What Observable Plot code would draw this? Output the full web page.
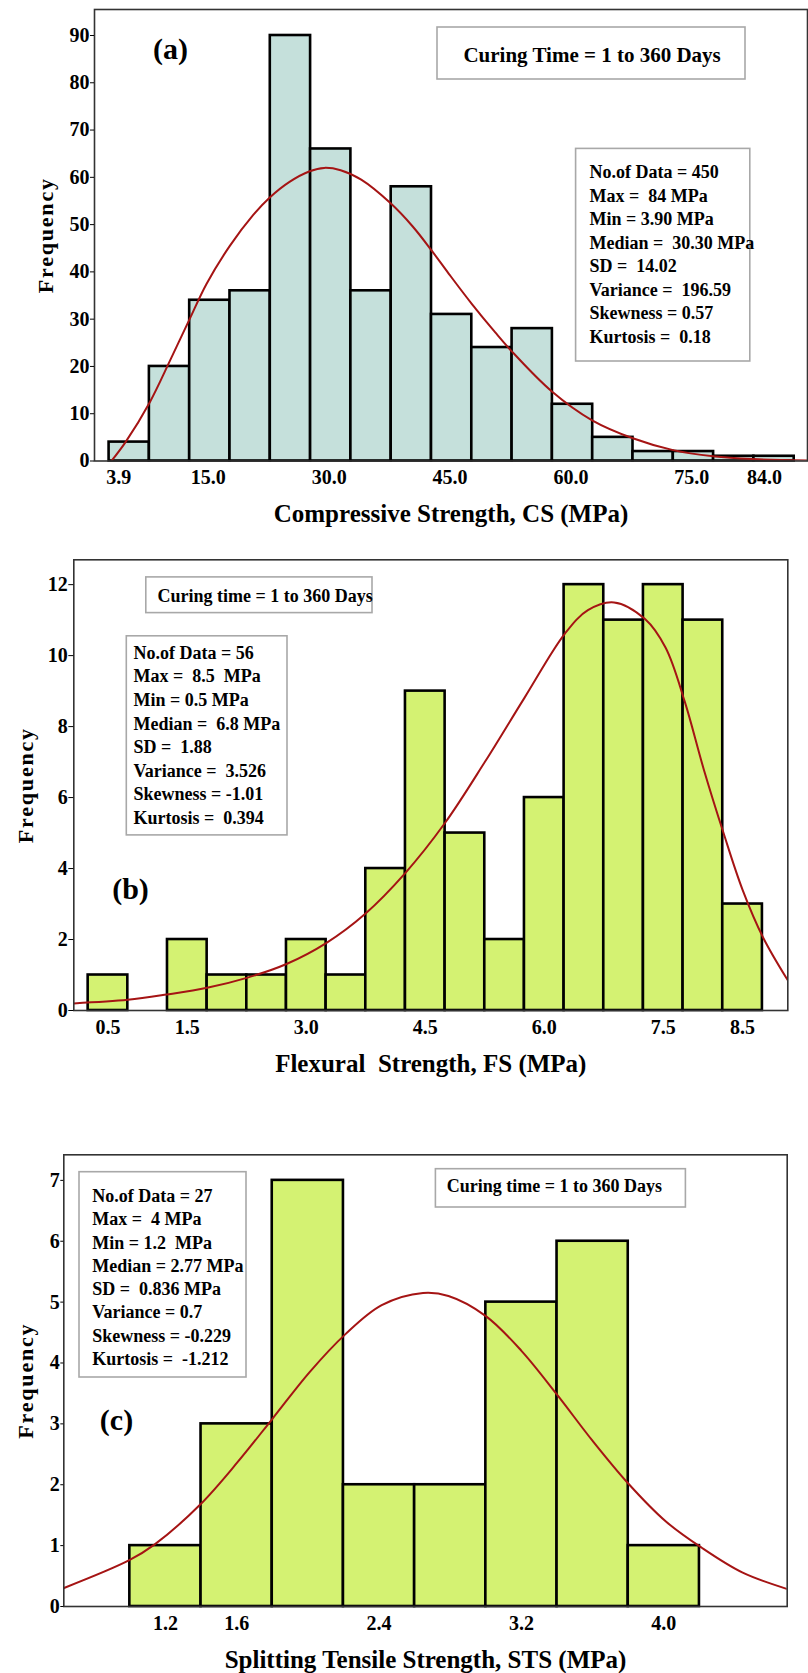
<!DOCTYPE html>
<html><head><meta charset="utf-8">
<script src="https://cdn.jsdelivr.net/npm/d3@7"></script>
<script src="https://cdn.jsdelivr.net/npm/@observablehq/plot@0.6"></script>
<style>
body{margin:0;background:#fff;}
#chart svg{display:block;}
</style></head><body><div id="chart"></div>
<script>
// ---------- Panel (a): Compressive strength ----------
const csEdges = [2.7, 7.7, 12.7, 17.7, 22.7, 27.7, 32.7, 37.7, 42.7, 47.7, 52.7, 57.7, 62.7, 67.7, 72.7, 77.7, 82.7, 87.7];
const csCounts = [4, 20, 34, 36, 90, 66, 36, 58, 31, 24, 28, 12, 5, 2, 2, 1, 1];
const csCurveX = [2.98, 4.74, 7.77, 10.33, 12.69, 14.8, 17.68, 20.56, 22.67, 25.04, 27.59, 29.38, 31.43, 33.98, 37.63, 40.37, 42.68, 44.85, 47.67, 50.61, 52.66, 57.64, 62.63, 67.68, 72.67, 77.66, 82.58, 89.3];
const csCurveY = [0, 4, 12.5, 21.5, 30, 37.5, 45.5, 52, 55.8, 59, 61.3, 62, 61.5, 59.5, 54.5, 49.6, 44.6, 39.6, 33.3, 27.2, 23.2, 14.7, 8.6, 4.8, 2.3, 1.0, 0.4, 0.1];
const csXTicks = [3.9, 15, 30, 45, 60, 75, 84];
const csYTicks = [0, 10, 20, 30, 40, 50, 60, 70, 80, 90];
const csStats = ["No.of Data = 450", "Max =  84 MPa", "Min = 3.90 MPa", "Median =  30.30 MPa", "SD =  14.02", "Variance =  196.59", "Skewness = 0.57", "Kurtosis =  0.18"];
const csCuring = "Curing Time = 1 to 360 Days";
const csTag = "(a)";
const csXLabel = "Compressive Strength, CS (MPa)";

// ---------- Panel (b): Flexural strength ----------
const fsEdges = [0.25, 0.75, 1.25, 1.75, 2.25, 2.75, 3.25, 3.75, 4.25, 4.75, 5.25, 5.75, 6.25, 6.75, 7.25, 7.75, 8.25, 8.75];
const fsCounts = [1, 0, 2, 1, 1, 2, 1, 4, 9, 5, 2, 6, 12, 11, 12, 11, 3];
const fsCurveX = [0.07, 0.75, 1.24, 1.75, 2.25, 2.75, 3.25, 3.74, 4.25, 4.75, 5.25, 5.75, 6.26, 6.55, 6.88, 7.27, 7.53, 7.77, 8.01, 8.26, 8.5, 8.76, 9.07];
const fsCurveY = [0.2, 0.3, 0.45, 0.64, 0.92, 1.31, 1.9, 2.72, 3.88, 5.29, 7.0, 8.81, 10.62, 11.28, 11.5, 11.03, 10.22, 8.71, 6.8, 5.0, 3.4, 2.05, 0.85];
const fsXTicks = [0.5, 1.5, 3.0, 4.5, 6.0, 7.5, 8.5];
const fsYTicks = [0, 2, 4, 6, 8, 10, 12];
const fsStats = ["No.of Data = 56", "Max =  8.5  MPa", "Min = 0.5 MPa", "Median =  6.8 MPa", "SD =  1.88", "Variance =  3.526", "Skewness = -1.01", "Kurtosis =  0.394"];
const fsCuring = "Curing time = 1 to 360 Days";
const fsTag = "(b)";
const fsXLabel = "Flexural  Strength, FS (MPa)";

// ---------- Panel (c): Splitting tensile strength ----------
const stsEdges = [1.0, 1.4, 1.8, 2.2, 2.6, 3.0, 3.4, 3.8, 4.2];
const stsCounts = [1, 3, 7, 2, 2, 5, 6, 1];
const stsCurveX = [0.627, 0.997, 1.14, 1.397, 1.605, 1.80, 2.01, 2.21, 2.415, 2.647, 2.79, 3.00, 3.20, 3.40, 3.60, 3.80, 4.01, 4.21, 4.44, 4.69];
const stsCurveY = [0.30, 0.76, 1.02, 1.68, 2.37, 3.08, 3.85, 4.47, 4.95, 5.15, 5.1, 4.77, 4.2, 3.48, 2.72, 2.02, 1.4, 0.97, 0.56, 0.29];
const stsXTicks = [1.2, 1.6, 2.4, 3.2, 4.0];
const stsYTicks = [0, 1, 2, 3, 4, 5, 6, 7];
const stsStats = ["No.of Data = 27", "Max =  4 MPa", "Min = 1.2  MPa", "Median = 2.77 MPa", "SD =  0.836 MPa", "Variance = 0.7", "Skewness = -0.229", "Kurtosis =  -1.212"];
const stsCuring = "Curing time = 1 to 360 Days";
const stsTag = "(c)";
const stsXLabel = "Splitting Tensile Strength, STS (MPa)";

// ---------- helpers ----------
const FONT = "'Liberation Serif','Times New Roman',serif";
const CURVE = "#a51414";
const keep = s => s.replace(/  /g, " \u00a0");

function bins(edges, counts) {
  return counts.map((c, i) => ({x1: edges[i], x2: edges[i + 1], count: c}));
}
function pts(xs, ys) { return xs.map((x, i) => ({x, y: ys[i]})); }

// annotation box, positioned in pixels relative to the plot frame
function boxMark(bx, by, bw, bh) {
  return (index, scales, values, dims) => d3.create("svg:rect")
    .attr("x", dims.marginLeft + bx).attr("y", dims.marginTop + by)
    .attr("width", bw).attr("height", bh)
    .attr("fill", "white").attr("stroke", "#a8a8a8").attr("stroke-width", 1.6).node();
}

function panel(o) {
  return Plot.plot({
    width: 808, height: o.height,
    marginLeft: o.m[0], marginTop: o.m[1], marginRight: o.m[2], marginBottom: o.m[3],
    style: {fontFamily: FONT, fontSize: "20px", fontWeight: "bold", color: "black", background: "white"},
    x: {domain: o.xDomain, label: null},
    y: {domain: o.yDomain, label: null},
    marks: [
      Plot.rect(bins(o.edges, o.counts), {x1: "x1", x2: "x2", y1: 0, y2: "count", fill: o.fill, stroke: "black", strokeWidth: 2.6}),
      Plot.line(pts(o.cx, o.cy), {x: "x", y: "y", stroke: CURVE, strokeWidth: 2, curve: "catmull-rom", clip: true}),
      Plot.frame({stroke: "#333", strokeWidth: 1.6}),
      Plot.axisX({ticks: o.xTicks, tickFormat: d3.format(".1f"), tickSize: 0, tickPadding: o.xPad, label: null}),
      Plot.axisY({ticks: o.yTicks, tickFormat: d => String(d), tickSize: o.ySize, tickPadding: 1, tickStrokeWidth: 1.5, label: null}),
      boxMark(...o.curingBox),
      boxMark(...o.statsBox),
      Plot.text([o.curing], {frameAnchor: "top-left", dx: o.curingPos[0], dy: o.curingPos[1], textAnchor: o.curingAnchor, lineAnchor: "middle", fontSize: o.curingSize}),
      Plot.text([o.stats.map(keep).join("\n")], {frameAnchor: "top-left", dx: o.statsPos[0], dy: o.statsPos[1], textAnchor: "start", lineAnchor: "top", fontSize: 18, lineHeight: o.statsLH}),
      Plot.text([o.tag], {frameAnchor: "top-left", dx: o.tagPos[0], dy: o.tagPos[1], textAnchor: "middle", lineAnchor: "middle", fontSize: 30}),
      Plot.text([keep(o.xLabel)], {frameAnchor: "bottom", dy: o.xLabelDy, lineAnchor: "middle", fontSize: 25}),
      Plot.text(["Frequency"], {frameAnchor: "left", dx: o.yLabelDx, rotate: -90, textAnchor: "middle", lineAnchor: "middle", fontSize: 22})
    ]
  });
}

const chart = document.getElementById("chart");

chart.append(panel({
  height: 530, m: [94, 9, 1, 69.5],
  xDomain: [0.89, 89.35], yDomain: [0, 95.5],
  edges: csEdges, counts: csCounts, fill: "#c5e0db",
  cx: csCurveX, cy: csCurveY, xTicks: csXTicks, yTicks: csYTicks,
  xPad: 9, ySize: 4,
  curingBox: [343, 18, 308, 52], statsBox: [481.6, 139.4, 174.2, 212.6],
  curing: csCuring, curingPos: [497.6, 46], curingAnchor: "middle", curingSize: 21,
  stats: csStats, statsPos: [495, 152], statsLH: 1.306,
  tag: csTag, tagPos: [76, 40],
  xLabel: csXLabel, xLabelDy: 52.5, yLabelDx: -49
}));

chart.append(panel({
  height: 560, m: [73.3, 29.3, 20.7, 80],
  xDomain: [0.069, 9.07], yDomain: [0, 12.7],
  edges: fsEdges, counts: fsCounts, fill: "#d4f272",
  cx: fsCurveX, cy: fsCurveY, xTicks: fsXTicks, yTicks: fsYTicks,
  xPad: 9.5, ySize: 5,
  curingBox: [72.5, 17.6, 226.2, 35.7], statsBox: [53, 76.5, 160.7, 199.1],
  curing: fsCuring, curingPos: [83.7, 36.1], curingAnchor: "start", curingSize: 18,
  stats: fsStats, statsPos: [59.7, 82.2], statsLH: 1.311,
  tag: fsTag, tagPos: [56.7, 329.2],
  xLabel: fsXLabel, xLabelDy: 53.6, yLabelDx: -48.3
}));

chart.append(panel({
  height: 583, m: [63.3, 64.3, 21.3, 67],
  xDomain: [0.629, 4.693], yDomain: [0, 7.42],
  edges: stsEdges, counts: stsCounts, fill: "#d4f272",
  cx: stsCurveX, cy: stsCurveY, xTicks: stsXTicks, yTicks: stsYTicks,
  xPad: 9.4, ySize: 3,
  curingBox: [372.1, 14.4, 250, 38.3], statsBox: [15.7, 17.4, 167, 205.3],
  curing: stsCuring, curingPos: [383, 31.9], curingAnchor: "start", curingSize: 18,
  stats: stsStats, statsPos: [28.4, 30.6], statsLH: 1.294,
  tag: stsTag, tagPos: [52.7, 265.6],
  xLabel: stsXLabel, xLabelDy: 53, yLabelDx: -38.3
}));

d3.selectAll("#chart text").filter(function() { return this.textContent === "Frequency"; })
  .attr("letter-spacing", "1.8px");
</script>
</body></html>
